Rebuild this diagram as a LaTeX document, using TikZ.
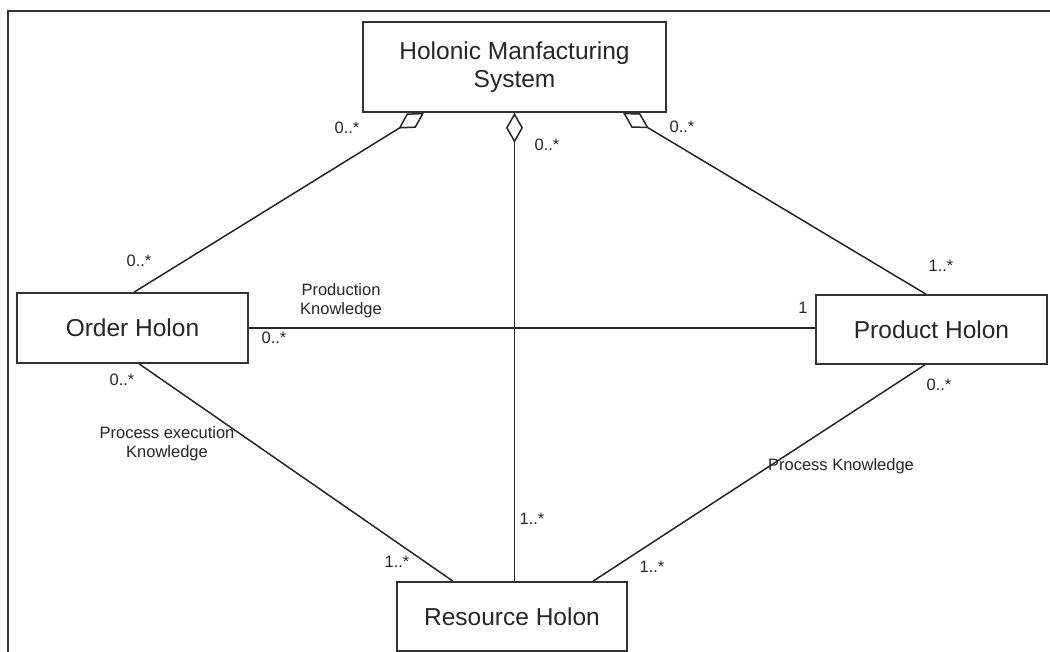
\documentclass[tikz,border=0pt]{standalone}
\usepackage{fontspec}
\setmainfont{Liberation Sans}
\usetikzlibrary{arrows.meta}
\begin{document}
\begin{tikzpicture}[x=1pt,y=-1pt,
  classbox/.style={draw=black!80,line width=1.6pt,fill=white,inner sep=0pt,
    minimum width=#1,font=\fontsize{24.5}{28}\selectfont,text=black!85,align=center},
  assoc/.style={draw=black!85,line width=1.5pt},
  aggr/.style={assoc,{Diamond[open,length=30pt,width=17pt,line width=1.5pt]}-},
  mult/.style={font=\fontsize{16.5}{19}\selectfont,text=black!85,inner sep=0pt},
  rolelabel/.style={mult,align=center}]
\useasboundingbox (0,0) rectangle (1050,652);
\fill[white] (0,0) rectangle (1050,652);
% frame edges
\draw[black!80,line width=2pt] (1050,11.5) -- (8,11.5) -- (8,652);

% classes
\node[classbox=303pt,minimum height=90pt] (hms) at (514.5,67) {Holonic Manfacturing\\System};
\node[classbox=231pt,minimum height=70pt] (order) at (132.5,328) {Order Holon};
\node[classbox=231pt,minimum height=69pt] (prod) at (931.5,329.5) {Product Holon};
\node[classbox=230pt,minimum height=69pt] (res) at (512,616.5) {Resource Holon};

% aggregations from the system
\draw[aggr] ([xshift=-90.5pt]hms.south) -- ([xshift=1.5pt]order.north);
\draw[aggr] (hms.south) -- (hms.south |- res.north);
\draw[aggr] ([xshift=108.5pt]hms.south) -- ([xshift=-5.5pt]prod.north);

% associations between holons
\draw[assoc] (order.east) -- (order.east -| prod.west);
\draw[assoc] ([xshift=6.5pt]order.south) -- ([xshift=-59pt]res.north);
\draw[assoc] ([xshift=-6.5pt]prod.south) -- ([xshift=81pt]res.north);

% multiplicities
\node[mult] (m1) at (347,128) {0..*};
\node[mult] (m2) at (547,145) {0..*};
\node[mult] (m3) at (682,127) {0..*};
\node[mult] (m4) at (139,261) {0..*};
\node[mult] (m5) at (941,266) {1..*};
\node[mult] (m6) at (803,308) {1};
\node[mult] (m7) at (274,338) {0..*};
\node[mult] (m8) at (122,380) {0..*};
\node[mult] (m9) at (939,385) {0..*};
\node[mult] (m10) at (397,562) {1..*};
\node[mult] (m11) at (532,519) {1..*};
\node[mult] (m12) at (652,567) {1..*};

% association names
\node[rolelabel] (l1) at (341,301) {Production\\Knowledge};
\node[rolelabel] (l2) at (167,444) {Process execution\\Knowledge};
\node[rolelabel] (l3) at (841,466) {Process Knowledge};
\end{tikzpicture}
\end{document}
